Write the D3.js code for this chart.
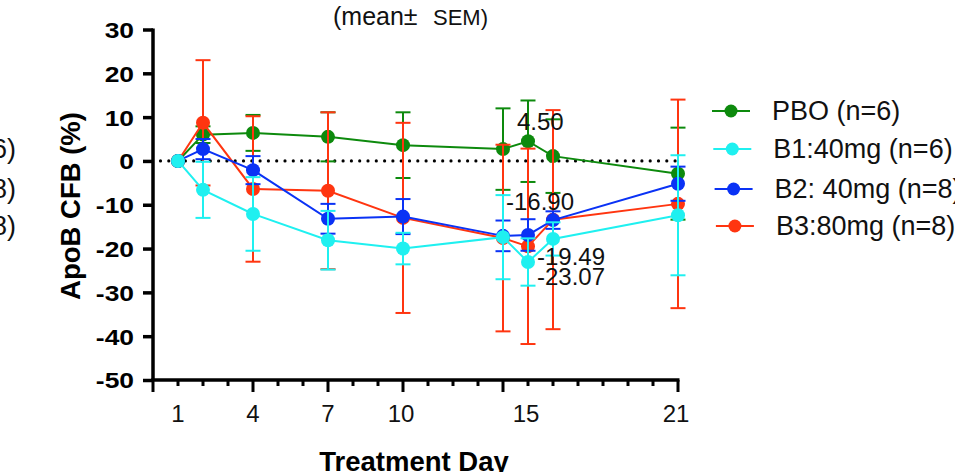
<!DOCTYPE html>
<html>
<head>
<meta charset="utf-8">
<script src="https://cdn.jsdelivr.net/npm/d3@7"></script>
<style>
  body { margin: 0; background: #fff; }
  svg { display: block; font-family: "Liberation Sans", Arial, sans-serif; }
</style>
</head>
<body>
<svg id="chart" width="955" height="472"></svg>
<script>
// Days with measurements
const days = [1, 2, 4, 7, 10, 14, 15, 16, 21];

// Mean % change from baseline and SEM per group
const pboMean = [0, 6.0, 6.4, 5.5, 3.6, 2.7, 4.5, 1.1, -2.9];
const pboSem = [0, 1.9, 4.1, 5.6, 7.5, 9.3, 9.3, 8.4, 10.5];
const b1Mean = [0, -6.6, -12.1, -18.1, -20.0, -17.4, -23.07, -17.8, -12.4];
const b1Sem = [0, 6.4, 8.4, 6.7, 3.6, 9.6, 5.4, 3.8, 13.7];
const b2Mean = [0, 2.7, -2.1, -13.2, -12.7, -17.1, -16.9, -13.5, -5.2];
const b2Sem = [0, 2.3, 3.2, 3.4, 4.0, 3.5, 3.6, 2.0, 3.9];
const b3Mean = [0, 8.7, -6.4, -6.8, -13.0, -17.6, -19.49, -13.4, -9.8];
const b3Sem = [0, 14.3, 16.6, 17.9, 21.7, 21.3, 22.3, 25.0, 23.8];

const groupNames = ["PBO (n=6)", "B1:40mg (n=6)", "B2: 40mg (n=8)", "B3:80mg (n=8)"];
const groupColors = ["#0d8a0d", "#1ff0f0", "#0a32f5", "#ff3510"];

// Axis ticks
const yTicks = [-50, -40, -30, -20, -10, 0, 10, 20, 30];
const xLabelDays = [1, 4, 7, 10, 15, 21];
const xMajorDays = [4, 7, 10, 14, 21];

// Values annotated on day 15
const labelValues = [
  { value: 4.50, text: "4.50", dx: -11, dy: -11 },
  { value: -16.90, text: "-16.90", dx: -22, dy: -24.5 },
  { value: -19.49, text: "-19.49", dx: 9, dy: 18.5 },
  { value: -23.07, text: "-23.07", dx: 9, dy: 23 }
];

const svg = d3.select("#chart");

const x = d3.scaleLinear().domain([0, 21]).range([153, 678]);
const y = d3.scaleLinear().domain([-50, 30]).range([380, 29.5]);

// Draw order: green, red, blue, cyan
const series = [
  { name: groupNames[0], color: groupColors[0], mean: pboMean, sem: pboSem },
  { name: groupNames[3], color: groupColors[3], mean: b3Mean, sem: b3Sem },
  { name: groupNames[2], color: groupColors[2], mean: b2Mean, sem: b2Sem },
  { name: groupNames[1], color: groupColors[1], mean: b1Mean, sem: b1Sem }
];

// Stretch a text horizontally (reference tick text is a bit wide)
function widen(sel, k) {
  sel.each(function () {
    const w = this.getComputedTextLength();
    d3.select(this).attr("textLength", w * k).attr("lengthAdjust", "spacingAndGlyphs");
  });
}

// Title (cut at top)
const title = svg.append("text")
  .attr("y", 24.5)
  .attr("font-size", 25)
  .attr("fill", "#111");
title.append("tspan").attr("x", 333).text("(mean±");
title.append("tspan").attr("x", 433).attr("font-size", 22).text("SEM)");

// Clipped text from a neighbouring legend at the left edge
["B1:40mg (n=6)", "B2: 40mg (n=8)", "B3:80mg (n=8)"].forEach((t, i) => {
  svg.append("text")
    .attr("x", 16)
    .attr("y", [149, 189, 226][i] + 9)
    .attr("text-anchor", "end")
    .attr("font-size", 27)
    .attr("fill", "#111")
    .text(t);
});

// Zero reference line
svg.append("line")
  .attr("x1", x(0.3)).attr("x2", x(21))
  .attr("y1", y(0)).attr("y2", y(0))
  .attr("stroke", "#000")
  .attr("stroke-width", 3.2)
  .attr("stroke-linecap", "round")
  .attr("stroke-dasharray", "0,8.3");

// Y axis
const yAxis = svg.append("g")
  .attr("transform", `translate(${x(0)},0)`)
  .call(d3.axisLeft(y).tickValues(yTicks).tickSize(10).tickPadding(9).tickFormat((d) => String(d)));
yAxis.select(".domain").attr("stroke-width", 3.5).attr("d", `M0,${y(30) - 1}V${y(-50) + 1}`);
yAxis.selectAll(".tick line").attr("stroke-width", 3.5);
yAxis.selectAll(".tick text")
  .attr("font-family", "Liberation Sans, Arial, sans-serif")
  .attr("font-size", 22)
  .attr("font-weight", "bold")
  .attr("fill", "#000")
  .attr("dy", "0.36em")
  .call(widen, 1.2);

// X axis: minor ticks every day, longer ticks at major days
const xAxisG = svg.append("g").attr("transform", `translate(0,${y(-50)})`);
xAxisG.append("line")
  .attr("x1", x(0) - 1.75).attr("x2", x(21) + 1.5)
  .attr("y1", 0).attr("y2", 0)
  .attr("stroke", "#000").attr("stroke-width", 3.5);
xAxisG.selectAll(".minor")
  .data(d3.range(0, 22))
  .join("line")
  .attr("x1", (d) => x(d)).attr("x2", (d) => x(d))
  .attr("y1", 0)
  .attr("y2", (d) => (d === 0 || xMajorDays.includes(d)) ? 12 : 6)
  .attr("stroke", "#000").attr("stroke-width", 3);
xAxisG.selectAll(".xlabel")
  .data(xLabelDays)
  .join("text")
  .attr("x", (d) => x(d) - (d >= 10 ? 2 : 0))
  .attr("y", 42)
  .attr("text-anchor", "middle")
  .attr("font-size", 24)
  .attr("fill", "#111")
  .text((d) => d);

// Axis titles
svg.append("text")
  .attr("transform", "translate(80,206) rotate(-90)")
  .attr("text-anchor", "middle")
  .attr("font-size", 27.5)
  .attr("font-weight", "bold")
  .attr("fill", "#000")
  .text("ApoB CFB (%)");

svg.append("text")
  .attr("x", 414)
  .attr("y", 471)
  .attr("text-anchor", "middle")
  .attr("font-size", 27.5)
  .attr("font-weight", "bold")
  .attr("fill", "#000")
  .text("Treatment Day");

// Series
const line = d3.line()
  .x((d) => x(d.day))
  .y((d) => y(d.mean));

series.forEach((s) => {
  const pts = days.map((day, i) => ({ day: day, mean: s.mean[i], sem: s.sem[i] }));
  const g = svg.append("g");

  // Error bars
  const bars = pts.filter((d) => d.sem > 0);
  g.selectAll(".ebar")
    .data(bars)
    .join("line")
    .attr("x1", (d) => x(d.day)).attr("x2", (d) => x(d.day))
    .attr("y1", (d) => y(d.mean + d.sem)).attr("y2", (d) => y(d.mean - d.sem))
    .attr("stroke", s.color).attr("stroke-width", 2);
  [1, -1].forEach((sign) => {
    g.selectAll(".cap" + sign)
      .data(bars)
      .join("line")
      .attr("x1", (d) => x(d.day) - 7.5).attr("x2", (d) => x(d.day) + 7.5)
      .attr("y1", (d) => y(d.mean + sign * d.sem)).attr("y2", (d) => y(d.mean + sign * d.sem))
      .attr("stroke", s.color).attr("stroke-width", 2);
  });

  g.append("path")
    .datum(pts)
    .attr("d", line)
    .attr("fill", "none")
    .attr("stroke", s.color)
    .attr("stroke-width", 2);

  g.selectAll("circle")
    .data(pts)
    .join("circle")
    .attr("cx", (d) => x(d.day))
    .attr("cy", (d) => y(d.mean))
    .attr("r", 7)
    .attr("fill", s.color);
});

// Day 15 value labels
svg.selectAll(".vlabel")
  .data(labelValues)
  .join("text")
  .attr("x", (d) => x(15) + d.dx)
  .attr("y", (d) => y(d.value) + d.dy)
  .attr("font-size", 24)
  .attr("fill", "#111")
  .text((d) => d.text);

// Legend
const legend = svg.append("g");
groupNames.forEach((name, i) => {
  const ly = [111, 149, 189, 226][i];
  const lx = 712 + i * 1.3;
  legend.append("line")
    .attr("x1", lx).attr("x2", lx + 38)
    .attr("y1", ly).attr("y2", ly)
    .attr("stroke", groupColors[i]).attr("stroke-width", 2);
  legend.append("circle")
    .attr("cx", lx + 19).attr("cy", ly).attr("r", 6.5)
    .attr("fill", groupColors[i]);
  legend.append("text")
    .attr("x", lx + 60)
    .attr("y", ly + 9)
    .attr("font-size", 27)
    .attr("fill", "#111")
    .text(name);
});
</script>
</body>
</html>
